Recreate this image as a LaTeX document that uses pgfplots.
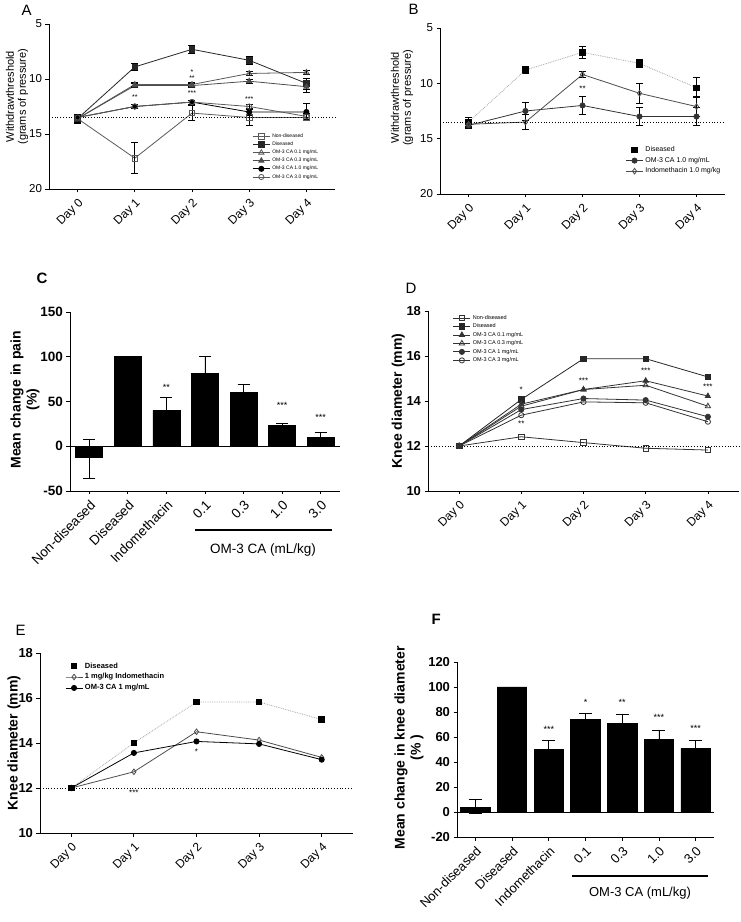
\documentclass[border=0pt]{standalone}
\usepackage{fontspec}
\setmainfont{Liberation Sans}
\usepackage{pgfplots}
\usepackage{pgfplotstable}
\pgfplotsset{compat=1.18}

\pgfplotstableread{
x nd ndE dis disE c01 c01E c03 c03E c10 c10E c30 c30E
0 13.6 0.4 13.6 0.3 13.6 0.3 13.6 0.3 13.5 0.3 13.5 0.3
1 17.2 1.4 8.9 0.3 10.5 0.2 10.6 0.2 12.5 0.2 12.5 0.2
2 13.1 0.7 7.3 0.4 10.5 0.2 10.6 0.2 12.1 0.2 12.1 0.2
3 13.5 0.7 8.3 0.4 9.5 0.2 10.2 0.2 13.0 0.3 12.5 0.2
4 13.5 0.3 10.4 0.5 9.4 0.2 10.7 0.5 13.0 0.8 13.4 0.3
}\tabA
\pgfplotstableread{
x dis disE c10 c10E ind indE
0 13.5 0.4 13.8 0.3 13.7 0.3
1 8.8 0.3 12.5 0.8 13.5 0.7
2 7.2 0.5 12.0 0.8 9.2 0.3
3 8.2 0.4 13.0 0.8 10.9 0.9
4 10.4 0.9 13.0 0.8 12.1 0.9
}\tabB
\pgfplotstableread{
x y ep em
0 -13 21 23
1 100 0 0
2 40 15 0
3 81 19 0
4 60 9 0
5 23 3 0
6 10 6 0
}\tabC
\pgfplotstableread{
x nd dis c01 c03 c1 c3
0 12.00 12.00 12.00 12.00 12.00 12.00
1 12.41 14.07 13.86 13.77 13.62 13.37
2 12.15 15.88 14.51 14.51 14.11 13.96
3 11.90 15.88 14.90 14.70 14.04 13.92
4 11.82 15.07 14.22 13.77 13.30 13.08
}\tabD
\pgfplotstableread{
x dis ind c1
0 12.00 12.00 12.00
1 14.00 12.72 13.56
2 15.82 14.50 14.07
3 15.82 14.13 13.96
4 15.04 13.36 13.26
}\tabE
\pgfplotstableread{
x y ep em
0 4 6 5
1 100 0 0
2 50 7 0
3 74 5 0
4 71 7 0
5 58 7 0
6 51 6 0
}\tabF

\pgfplotsset{
  base/.style={scale only axis, axis lines=left, axis line style={-, line width=0.8pt},
    tick style={line width=0.8pt, black}, major tick length=3.5pt, tick align=outside,
    /pgf/number format/assume math mode=true, clip=false,
    every axis plot/.append style={line width=0.8pt},
    error bars/error bar style={line width=0.7pt, black},
    error bars/error mark options={rotate=90, mark size=3.5pt, line width=0.7pt, black}},
  days/.style={xmin=-0.5, xmax=4.5, xtick={0,...,4},
    xticklabels={Day 0,Day 1,Day 2,Day 3,Day 4},
    xticklabel style={rotate=45, anchor=north east, font=\fontsize{12}{14}\selectfont}},
  cats/.style={xmin=-0.5, xmax=6.5, xtick={0,...,6},
    xticklabels={Non-diseased,Diseased,Indomethacin,0.1,0.3,1.0,3.0},
    xticklabel style={rotate=45, anchor=north east}},
  tinyleg/.style={legend cell align=left, legend style={draw=none, fill=none,
    font=\fontsize{5}{6}\selectfont, row sep=-1pt}},
}

\begin{document}
\begin{tikzpicture}[x=1pt,y=1pt]
\useasboundingbox (0,0) rectangle (740,922);

% ---------------- A
\begin{axis}[base, days, at={(49pt,733pt)}, anchor=south west, width=286pt, height=165pt,
  ymin=5, ymax=20, y dir=reverse, ytick={5,10,15,20}, axis x line*=bottom, axis y line*=left,
  yticklabel style={font=\fontsize{11.5}{13}\selectfont},
  ylabel={Withdrawthreshold\\(grams of pressure)},
  ylabel style={align=center, font=\fontsize{11}{12}\selectfont, at={(axis description cs:-0.112,0.56)}, anchor=center},
  tinyleg, legend style={at={(0.70,0.36)}, anchor=north west}]
\addplot[gray!70!black, mark=square, mark size=2.8pt, mark options={fill=white},
  error bars/.cd, y dir=both, y explicit] table[x=x,y=nd,y error=ndE]{\tabA};
\addlegendentry{Non-diseased}
\addplot[black!85, mark=square*, mark size=2.8pt,
  error bars/.cd, y dir=both, y explicit] table[x=x,y=dis,y error=disE]{\tabA};
\addlegendentry{Diseased}
\addplot[gray!70!black, mark=triangle, mark size=3pt, mark options={fill=white},
  error bars/.cd, y dir=both, y explicit] table[x=x,y=c01,y error=c01E]{\tabA};
\addlegendentry{OM-3 CA 0.1 mg/mL}
\addplot[gray!60!black, mark=triangle*, mark size=3pt,
  error bars/.cd, y dir=both, y explicit] table[x=x,y=c03,y error=c03E]{\tabA};
\addlegendentry{OM-3 CA 0.3 mg/mL}
\addplot[black, mark=*, mark size=2.6pt,
  error bars/.cd, y dir=both, y explicit] table[x=x,y=c10,y error=c10E]{\tabA};
\addlegendentry{OM-3 CA 1.0 mg/mL}
\addplot[gray!70!black, mark=o, mark size=2.6pt, mark options={fill=white},
  error bars/.cd, y dir=both, y explicit] table[x=x,y=c30,y error=c30E]{\tabA};
\addlegendentry{OM-3 CA 3.0 mg/mL}
\addplot[black, dotted, line width=0.8pt, forget plot] coordinates {(-0.5,13.5) (4.5,13.5)};
\node[font=\fontsize{7}{7}\selectfont] at (axis cs:1,11.6) {**};
\node[font=\fontsize{7}{7}\selectfont] at (axis cs:2,9.4) {*};
\node[font=\fontsize{7}{7}\selectfont] at (axis cs:2,9.9) {**};
\node[font=\fontsize{7}{7}\selectfont] at (axis cs:2,11.3) {***};
\node[font=\fontsize{7}{7}\selectfont] at (axis cs:3,11.8) {***};
\end{axis}

% ---------------- B
\begin{axis}[base, days, at={(440pt,728pt)}, anchor=south west, width=285pt, height=166pt,
  ymin=5, ymax=20, y dir=reverse, ytick={5,10,15,20}, axis x line*=bottom, axis y line*=left,
  yticklabel style={font=\fontsize{11.5}{13}\selectfont},
  ylabel={Withdrawthreshold\\(grams of pressure)},
  ylabel style={align=center, font=\fontsize{11}{12}\selectfont, at={(axis description cs:-0.133,0.58)}, anchor=center},
  tinyleg, legend style={at={(0.64,0.31)}, anchor=north west, font=\fontsize{7}{8}\selectfont, row sep=0pt}]
\addplot[only marks, black, mark=square*, mark size=2.8pt,
  error bars/.cd, y dir=both, y explicit] table[x=x,y=dis,y error=disE]{\tabB};
\addlegendentry{Diseased}
\addplot[black!80, mark=*, mark size=2.6pt,
  error bars/.cd, y dir=both, y explicit] table[x=x,y=c10,y error=c10E]{\tabB};
\addlegendentry{OM-3 CA 1.0 mg/mL}
\addplot[black!70, mark=diamond, mark size=2.8pt, mark options={fill=white},
  error bars/.cd, y dir=both, y explicit] table[x=x,y=ind,y error=indE]{\tabB};
\addlegendentry{Indomethacin 1.0 mg/kg}
\addplot[gray!70, densely dotted, line width=0.8pt, forget plot] table[x=x,y=dis]{\tabB};
\addplot[black, dotted, line width=0.8pt, forget plot] coordinates {(-0.5,13.5) (4.5,13.5)};
\node[font=\fontsize{8}{8}\selectfont] at (axis cs:2,10.5) {**};
\end{axis}

% ---------------- C
\begin{axis}[base, cats, at={(70pt,431pt)}, anchor=south west, width=270pt, height=179pt,
  ymin=-50, ymax=150, ytick={-50,0,50,100,150},
  error bars/error mark options={rotate=90, mark size=6pt, line width=0.8pt, black},
  error bars/error bar style={line width=0.8pt, black},
  yticklabel style={font=\fontsize{13.5}{15}\selectfont\bfseries},
  xticklabel style={font=\fontsize{13.5}{15}\selectfont},
  ylabel={Mean change in pain\\(\%)},
  ylabel style={align=center, font=\fontsize{14}{16}\selectfont\bfseries, at={(axis description cs:-0.167,0.51)}, anchor=center}]
\addplot[ybar, bar width=0.7, fill=black, draw=black,
  error bars/.cd, y dir=both, y explicit]
  table[x=x,y=y,y error plus=ep,y error minus=em]{\tabC};
\addplot[black, line width=0.8pt, forget plot] coordinates {(-0.5,0) (6.5,0)};
\node[font=\fontsize{9}{9}\selectfont] at (axis cs:2,66) {**};
\node[font=\fontsize{9}{9}\selectfont] at (axis cs:5,46) {***};
\node[font=\fontsize{9}{9}\selectfont] at (axis cs:6,32) {***};
\end{axis}
\draw[line width=2.5pt] (195,392) -- (332,392);
\node[font=\fontsize{13.5}{15}\selectfont] at (263,372) {OM-3 CA (mL/kg)};

% ---------------- D
\begin{axis}[base, days, at={(428pt,431pt)}, anchor=south west, width=311pt, height=180pt,
  ymin=10, ymax=18, ytick={10,12,...,18},
  yticklabel style={font=\fontsize{13}{15}\selectfont\bfseries},
  ylabel={Knee diameter (mm)},
  ylabel style={font=\fontsize{14}{16}\selectfont\bfseries, at={(axis description cs:-0.096,0.5)}, anchor=center},
  tinyleg, legend style={at={(0.07,1.0)}, anchor=north west, font=\fontsize{5.5}{6.5}\selectfont}]
\addplot[black!80, mark=square, mark size=2.8pt, mark options={fill=white}] table[x=x,y=nd]{\tabD};
\addlegendentry{Non-diseased}
\addplot[black!85, mark=square*, mark size=2.8pt] table[x=x,y=dis]{\tabD};
\addlegendentry{Diseased}
\addplot[black!80, mark=triangle*, mark size=3pt] table[x=x,y=c01]{\tabD};
\addlegendentry{OM-3 CA 0.1 mg/mL}
\addplot[black!80, mark=triangle, mark size=3pt, mark options={fill=white}] table[x=x,y=c03]{\tabD};
\addlegendentry{OM-3 CA 0.3 mg/mL}
\addplot[black!80, mark=*, mark size=2.6pt] table[x=x,y=c1]{\tabD};
\addlegendentry{OM-3 CA 1 mg/mL}
\addplot[black!80, mark=o, mark size=2.6pt, mark options={fill=white}] table[x=x,y=c3]{\tabD};
\addlegendentry{OM-3 CA 3 mg/mL}
\addplot[black, dotted, line width=0.8pt, forget plot] coordinates {(-0.5,12) (4.5,12)};
\node[font=\fontsize{8}{8}\selectfont] at (axis cs:1,14.48) {*};
\node[font=\fontsize{8}{8}\selectfont] at (axis cs:1,13.0) {**};
\node[font=\fontsize{8}{8}\selectfont] at (axis cs:2,14.92) {***};
\node[font=\fontsize{8}{8}\selectfont] at (axis cs:3,15.34) {***};
\node[font=\fontsize{8}{8}\selectfont] at (axis cs:4,14.63) {***};
\end{axis}

% ---------------- E
\begin{axis}[base, days, at={(40pt,89pt)}, anchor=south west, width=313pt, height=180pt,
  ymin=10, ymax=18, ytick={10,12,...,18},
  yticklabel style={font=\fontsize{13}{15}\selectfont\bfseries},
  ylabel={Knee diameter (mm)},
  ylabel style={font=\fontsize{14}{16}\selectfont\bfseries, at={(axis description cs:-0.083,0.5)}, anchor=center},
  tinyleg, legend style={at={(0.07,0.97)}, anchor=north west, font=\fontsize{7.5}{9}\selectfont\bfseries, row sep=0pt}]
\addplot[only marks, black, mark=square*, mark size=2.8pt] table[x=x,y=dis]{\tabE};
\addlegendentry{Diseased}
\addplot[black!70, mark=diamond, mark size=2.8pt, mark options={fill=white}] table[x=x,y=ind]{\tabE};
\addlegendentry{1 mg/kg Indomethacin}
\addplot[black, mark=*, mark size=2.6pt] table[x=x,y=c1]{\tabE};
\addlegendentry{OM-3 CA 1 mg/mL}
\addplot[gray!70, densely dotted, line width=0.8pt, forget plot] table[x=x,y=dis]{\tabE};
\addplot[black, dotted, line width=0.8pt, forget plot] coordinates {(-0.5,12) (4.5,12)};
\node[font=\fontsize{8}{8}\selectfont] at (axis cs:1,11.8) {***};
\node[font=\fontsize{8}{8}\selectfont] at (axis cs:2,13.6) {*};
\end{axis}

% ---------------- F
\begin{axis}[base, cats, at={(457pt,85pt)}, anchor=south west, width=257pt, height=175pt,
  ymin=-20, ymax=120, ytick={-20,0,...,120},
  error bars/error mark options={rotate=90, mark size=6.5pt, line width=0.8pt, black},
  error bars/error bar style={line width=0.8pt, black},
  yticklabel style={font=\fontsize{13}{15}\selectfont\bfseries},
  xticklabel style={font=\fontsize{13}{15}\selectfont},
  ylabel={Mean change in knee diameter\\(\% )},
  ylabel style={align=center, font=\fontsize{14}{16}\selectfont\bfseries, at={(axis description cs:-0.187,0.51)}, anchor=center}]
\addplot[ybar, bar width=0.8, fill=black, draw=black,
  error bars/.cd, y dir=both, y explicit]
  table[x=x,y=y,y error plus=ep,y error minus=em]{\tabF};
\addplot[black, line width=0.8pt, forget plot] coordinates {(-0.5,0) (6.5,0)};
\node[font=\fontsize{9}{9}\selectfont] at (axis cs:2,66) {***};
\node[font=\fontsize{9}{9}\selectfont] at (axis cs:3,88) {*};
\node[font=\fontsize{9}{9}\selectfont] at (axis cs:4,88) {**};
\node[font=\fontsize{9}{9}\selectfont] at (axis cs:5,76) {***};
\node[font=\fontsize{9}{9}\selectfont] at (axis cs:6,67) {***};
\end{axis}
\draw[line width=2pt] (572,46) -- (708,46);
\node[font=\fontsize{13}{15}\selectfont] at (640,29) {OM-3 CA (mL/kg)};

% panel letters
\node[font=\fontsize{15}{15}\selectfont, anchor=west] at (18,912) {A};
\node[font=\fontsize{15}{15}\selectfont, anchor=west] at (405,913) {B};
\node[font=\fontsize{15}{15}\selectfont\bfseries, anchor=west] at (33,644) {C};
\node[font=\fontsize{15}{15}\selectfont, anchor=west] at (402,634) {D};
\node[font=\fontsize{15}{15}\selectfont, anchor=west] at (12,292) {E};
\node[font=\fontsize{15}{15}\selectfont\bfseries, anchor=west] at (428,303) {F};
\end{tikzpicture}
\end{document}
